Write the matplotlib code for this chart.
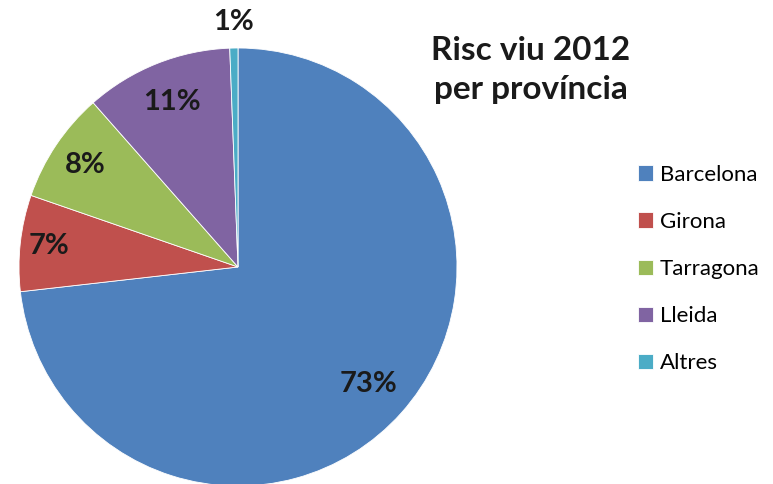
import matplotlib.pyplot as plt
import numpy as np

provinces = ["Barcelona", "Girona", "Tarragona", "Lleida", "Altres"]
shares = [73.2, 7.1, 8.2, 10.9, 0.6]
colors = ["#4F81BD", "#C0504D", "#9BBB59", "#8064A2", "#4BACC6"]
label_radius = [0.80, 0.87, 0.84, 0.81, 1.12]

plt.rcParams['font.family'] = ['Lato', 'DejaVu Sans']

W, H = 773, 484
fig = plt.figure(figsize=(W / 100, H / 100), dpi=100)

# pie box in pixels: center (238, 267), radius 219
cx, cy, r = 238, 267, 219
ax = fig.add_axes([(cx - r) / W, (H - cy - r) / H, 2 * r / W, 2 * r / H])
wedges, _ = ax.pie(shares, colors=colors, startangle=90, counterclock=False,
                   wedgeprops=dict(edgecolor="white", linewidth=0.6))
ax.set_xlim(-1, 1)
ax.set_ylim(-1, 1)
ax.set_aspect("auto")
ax.axis("off")

for w, share, rad in zip(wedges, shares, label_radius):
    ang = np.deg2rad((w.theta1 + w.theta2) / 2)
    ax.text(rad * np.cos(ang), rad * np.sin(ang), "{:.0f}%".format(share),
            ha="center", va="center", fontsize=21, fontweight="bold",
            color="#1a1a1a", clip_on=False)

fig.text(531 / W, 1 - 70 / H, "Risc viu 2012\nper província", ha="center", va="center",
         fontsize=24, fontweight="bold", linespacing=1.45, color="#1a1a1a")

leg = fig.legend(wedges, provinces, loc="upper left",
                 bbox_to_anchor=(629 / W, 1 - 156 / H), frameon=False,
                 fontsize=16, handlelength=0.7, handleheight=0.7,
                 handletextpad=0.3, labelspacing=1.22, borderaxespad=0)

fig.savefig("out.png", dpi=100)
